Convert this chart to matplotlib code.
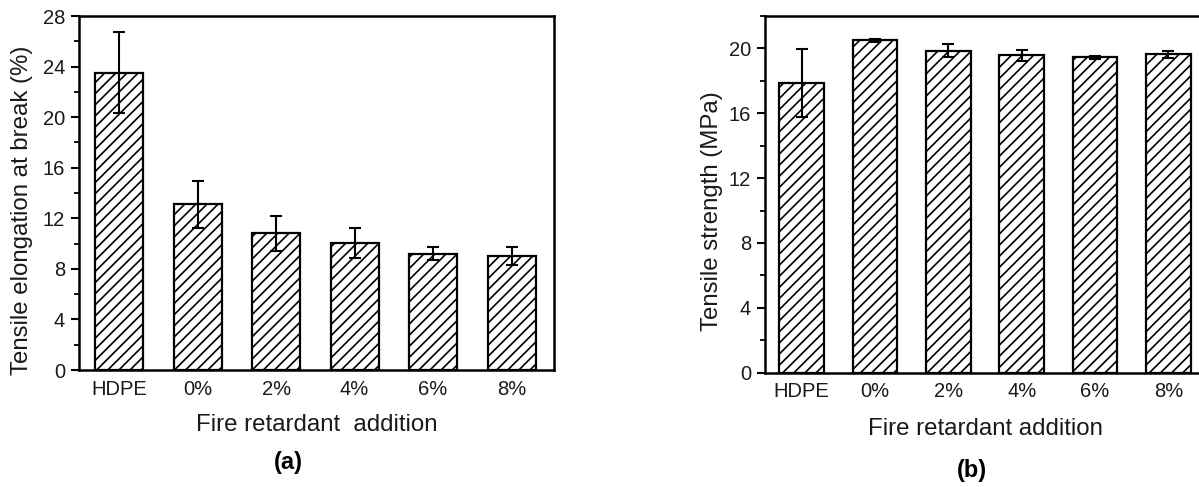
import matplotlib
matplotlib.use("Agg")
import matplotlib.pyplot as plt
import numpy as np

categories = ["HDPE", "0%", "2%", "4%", "6%", "8%"]
elongation = [23.5, 13.1, 10.8, 10.05, 9.2, 9.0]
elongation_err = [3.2, 1.85, 1.35, 1.2, 0.5, 0.7]
strength = [17.85, 20.5, 19.85, 19.57, 19.45, 19.63]
strength_err = [2.1, 0.1, 0.4, 0.35, 0.1, 0.2]
yticks_a = [0, 4, 8, 12, 16, 20, 24, 28]
yticks_b = [0, 4, 8, 12, 16, 20]

plt.rcParams['font.family'] = ['Liberation Sans', 'DejaVu Sans']
plt.rcParams['hatch.linewidth'] = 1.2
plt.rcParams['hatch.color'] = 'black'

fig = plt.figure(figsize=(11.99, 4.87), dpi=100)
ax_a = fig.add_axes([79/1199, 1-370/487, 475/1199, 354/487])
ax_b = fig.add_axes([765/1199, 1-372.7/487, 440/1199, 356.7/487])

x = np.arange(len(categories))

def style(ax, vals, errs, yticks, ylim, xlim, ylabel, xlabel, xl_y):
    ax.bar(x, vals, width=0.61, color='white', edgecolor='black', linewidth=1.6,
           hatch='///', zorder=2)
    ax.errorbar(x, vals, yerr=errs, fmt='none', ecolor='black', elinewidth=1.5,
                capsize=4, capthick=1.5, zorder=3)
    ax.set_xlim(*xlim)
    ax.set_ylim(*ylim)
    ax.set_yticks(yticks)
    ax.set_yticks(np.arange(ylim[0], ylim[1] + 0.01, 2), minor=True)
    ax.set_xticks(x)
    ax.set_xticklabels(categories)
    ax.tick_params(axis='x', length=0, labelsize=14.5, pad=7, colors='#1a1a1a')
    ax.tick_params(axis='y', which='major', direction='out', length=6, width=1.5,
                   labelsize=14.5, pad=4, colors='black', labelcolor='#1a1a1a')
    ax.tick_params(axis='y', which='minor', direction='out', length=3.5, width=1.3)
    for s in ax.spines.values():
        s.set_linewidth(1.8)
    ax.set_ylabel(ylabel, fontsize=17.3, color='#1a1a1a')
    ax.set_xlabel(xlabel, fontsize=17.3, color='#1a1a1a')
    ax.yaxis.set_label_coords(-0.096, 0.452)
    ax.xaxis.set_label_coords(0.5, xl_y)

style(ax_a, elongation, elongation_err, yticks_a, (0, 28), (-0.51, 5.54),
      "Tensile elongation at break (%)", "Fire retardant  addition", -0.124)
style(ax_b, strength, strength_err, yticks_b, (0, 22), (-0.5, 5.5),
      "Tensile strength (MPa)", "Fire retardant addition", -0.127)

fig.text(288/1199, 1-462/487, "(a)", fontsize=17, fontweight='bold', ha='center', va='center')
fig.text(972/1199, 1-471/487, "(b)", fontsize=17, fontweight='bold', ha='center', va='center')

fig.savefig("out.png", dpi=100)
